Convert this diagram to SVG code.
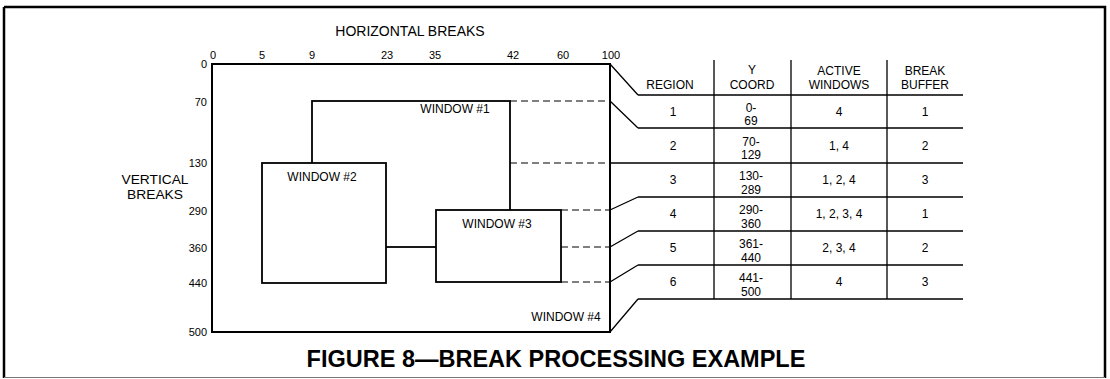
<svg xmlns="http://www.w3.org/2000/svg" width="1110" height="379" viewBox="0 0 1110 379">
<style>
text{font-family:"Liberation Sans",Arial,sans-serif;fill:#000}
.t{font-size:11px;text-anchor:middle}
.v{font-size:11px;text-anchor:end}
.h{font-size:14px;text-anchor:middle}
.h2{font-size:13px;text-anchor:middle}
.c{font-size:12px;text-anchor:middle}
.y{font-size:12px;text-anchor:middle}
.w{font-size:12px;text-anchor:middle}
.ttl{font-size:23.5px;font-weight:bold;text-anchor:middle}
.box{fill:#fff;stroke:#000;stroke-width:2}
.win{fill:#fff;stroke:#000;stroke-width:1.8}
.ln{stroke:#000;stroke-width:1.3;fill:none}
.dash{stroke:#000;stroke-width:1.1;stroke-dasharray:7,4;fill:none}
</style>
<rect width="1110" height="379" fill="#fff"/>
<g id="frame">
<path d="M4,7 H1105 V378" fill="none" stroke="#000" stroke-width="2.5"/>
<path d="M4,7 V378" fill="none" stroke="#000" stroke-width="2.5"/>
<path d="M4,377.5 H1105" fill="none" stroke="#777" stroke-width="1.2"/>
</g>
<g id="axis-labels">
<text class="h" x="410" y="36">HORIZONTAL BREAKS</text>
<text class="h2" x="155" y="184" textLength="67" lengthAdjust="spacingAndGlyphs">VERTICAL</text>
<text class="h2" x="155" y="198.5" textLength="56" lengthAdjust="spacingAndGlyphs">BREAKS</text>
<text class="t" x="213" y="59">0</text>
<text class="t" x="262" y="59">5</text>
<text class="t" x="312" y="59">9</text>
<text class="t" x="387" y="59">23</text>
<text class="t" x="435" y="59">35</text>
<text class="t" x="513" y="59">42</text>
<text class="t" x="563" y="59">60</text>
<text class="t" x="611" y="59">100</text>
<text class="v" x="207" y="68">0</text>
<text class="v" x="207" y="106">70</text>
<text class="v" x="207" y="167">130</text>
<text class="v" x="207" y="215">290</text>
<text class="v" x="207" y="252">360</text>
<text class="v" x="207" y="287">440</text>
<text class="v" x="207" y="336">500</text>
</g>
<g id="window4">
<rect class="box" x="212" y="64" width="398" height="268"/>
<text class="w" x="566" y="321">WINDOW #4</text>
</g>
<g id="window1">
<rect class="win" x="312" y="101" width="198" height="146"/>
<text class="w" x="455" y="113">WINDOW #1</text>
</g>
<g id="window2">
<rect class="win" x="262" y="163" width="124" height="120"/>
<text class="w" x="322" y="181">WINDOW #2</text>
</g>
<g id="window3">
<rect class="win" x="436" y="210" width="125" height="72"/>
<text class="w" x="497" y="228">WINDOW #3</text>
</g>
<g id="connectors">
<path class="dash" d="M510,101 H610 M510,163 H610 M561,210 H610 M561,247 H610 M561,282 H610"/>
<path class="ln" d="M610,64 L638,95 M610,101 L638,128 M610,163 H638 M610,210 L638,197 M610,247 L638,231 M610,282 L638,265 M610,332 L638,299"/>
</g>
<g id="table">
<path class="ln" d="M638,95 H963 M638,128 H963 M638,163 H963 M638,197 H963 M638,231 H963 M638,265 H963 M638,299 H963"/>
<path class="ln" d="M714,60 V299 M791,60 V299 M887,60 V299"/>
<text class="c" x="670" y="89">REGION</text>
<text class="c" x="752" y="74">Y</text>
<text class="c" x="752" y="89">COORD</text>
<text class="c" x="839" y="75">ACTIVE</text>
<text class="c" x="839" y="89">WINDOWS</text>
<text class="c" x="925" y="75">BREAK</text>
<text class="c" x="925" y="89">BUFFER</text>
<text class="c" x="673" y="116">1</text>
<text class="c" x="673" y="150">2</text>
<text class="c" x="673" y="184">3</text>
<text class="c" x="673" y="218">4</text>
<text class="c" x="673" y="252">5</text>
<text class="c" x="673" y="286">6</text>
<text class="y" x="751" y="111.5">0-</text>
<text class="y" x="751" y="125">69</text>
<text class="y" x="751" y="145.5">70-</text>
<text class="y" x="751" y="159">129</text>
<text class="y" x="751" y="180">130-</text>
<text class="y" x="751" y="193.5">289</text>
<text class="y" x="751" y="214">290-</text>
<text class="y" x="751" y="227.5">360</text>
<text class="y" x="751" y="248">361-</text>
<text class="y" x="751" y="261.5">440</text>
<text class="y" x="751" y="282">441-</text>
<text class="y" x="751" y="295.5">500</text>
<text class="c" x="839" y="116">4</text>
<text class="c" x="839" y="150">1, 4</text>
<text class="c" x="839" y="184">1, 2, 4</text>
<text class="c" x="839" y="218">1, 2, 3, 4</text>
<text class="c" x="839" y="252">2, 3, 4</text>
<text class="c" x="839" y="286">4</text>
<text class="c" x="925" y="116">1</text>
<text class="c" x="925" y="150">2</text>
<text class="c" x="925" y="184">3</text>
<text class="c" x="925" y="218">1</text>
<text class="c" x="925" y="252">2</text>
<text class="c" x="925" y="286">3</text>
</g>
<g id="title">
<text class="ttl" x="556" y="367">FIGURE 8—BREAK PROCESSING EXAMPLE</text>
</g>
</svg>
